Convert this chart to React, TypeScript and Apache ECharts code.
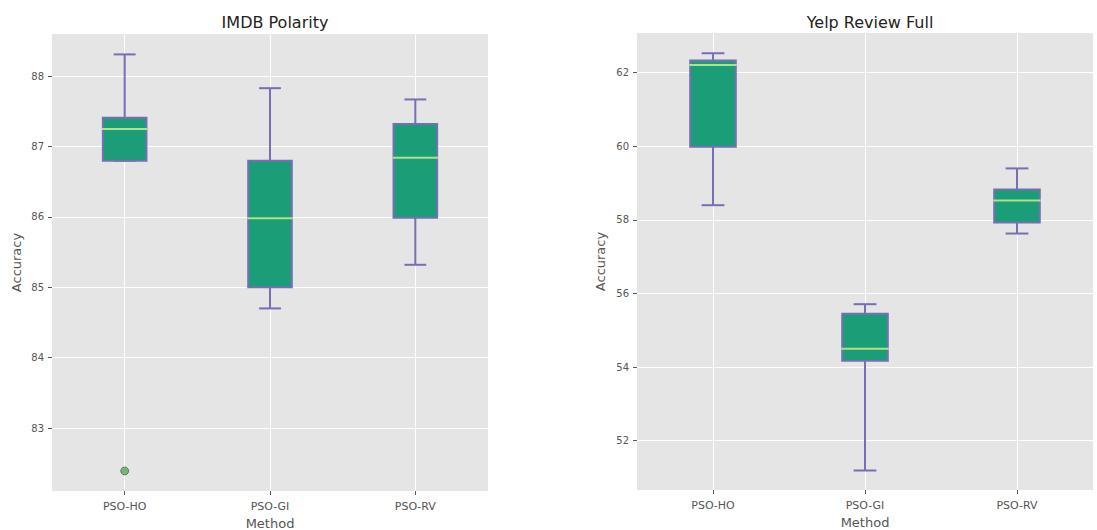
import React, { useEffect, useRef } from "react";
import * as echarts from "echarts";

const categories = ["PSO-HO", "PSO-GI", "PSO-RV"];
const positions = [1, 2, 3];
// [min whisker, Q1, median, Q3, max whisker]
const imdbStats = [
  [86.8, 86.8, 87.25, 87.41, 88.31],
  [84.7, 85.0, 85.98, 86.8, 87.83],
  [85.32, 85.99, 86.84, 87.32, 87.67],
];
const imdbOutliers = [[1, 82.39]];
const yelpStats = [
  [58.4, 59.99, 62.21, 62.33, 62.53],
  [51.19, 54.17, 54.5, 55.45, 55.71],
  [57.63, 57.93, 58.53, 58.83, 59.4],
];
const imdbTicks = [83, 84, 85, 86, 87, 88];
const yelpTicks = [52, 54, 56, 58, 60, 62];

const FILL = "#1b9e77";
const EDGE = "#7570b3";
const MEDIAN = "#b2df8a";
const FONT = "DejaVu Sans";

function renderBox(params: any, api: any) {
  const x = api.value(0);
  const lo = api.coord([x, api.value(1)]);
  const q1 = api.coord([x, api.value(2)]);
  const med = api.coord([x, api.value(3)]);
  const q3 = api.coord([x, api.value(4)]);
  const hi = api.coord([x, api.value(5)]);
  const bw = api.size([0.3, 0])[0];
  const cw = bw / 2;
  const cx = lo[0];
  const ls = { stroke: EDGE, lineWidth: 2 };
  return {
    type: "group",
    children: [
      { type: "line", shape: { x1: cx, y1: hi[1], x2: cx, y2: q3[1] }, style: ls },
      { type: "line", shape: { x1: cx, y1: q1[1], x2: cx, y2: lo[1] }, style: ls },
      { type: "line", shape: { x1: cx - cw / 2, y1: hi[1], x2: cx + cw / 2, y2: hi[1] }, style: ls },
      { type: "line", shape: { x1: cx - cw / 2, y1: lo[1], x2: cx + cw / 2, y2: lo[1] }, style: ls },
      {
        type: "rect",
        shape: { x: cx - bw / 2, y: q3[1], width: bw, height: q1[1] - q3[1] },
        style: { fill: FILL, stroke: EDGE, lineWidth: 2 },
      },
      {
        type: "line",
        shape: { x1: cx - bw / 2 - 1, y1: med[1], x2: cx + bw / 2 + 1, y2: med[1] },
        style: { stroke: MEDIAN, lineWidth: 2 },
      },
    ],
  };
}

function xAxisFor(gridIndex: number) {
  return {
    type: "value",
    gridIndex,
    min: 0.5,
    max: 3.5,
    name: "Method",
    nameLocation: "middle",
    nameGap: 26,
    nameTextStyle: { color: "#555", fontSize: 13, fontFamily: FONT },
    axisLine: { show: false },
    axisTick: { show: true, length: 4, lineStyle: { color: "#555" }, customValues: positions },
    axisLabel: {
      color: "#555",
      fontSize: 11,
      fontFamily: FONT,
      margin: 10,
      customValues: positions,
      formatter: (v: number) => categories[Math.round(v) - 1] ?? "",
    },
    splitLine: { show: true, lineStyle: { color: "#ffffff", width: 1 }, customValues: positions },
  };
}

function yAxisFor(gridIndex: number, min: number, max: number, ticks: number[], gap: number) {
  return {
    type: "value",
    gridIndex,
    min,
    max,
    name: "Accuracy",
    nameLocation: "middle",
    nameGap: gap,
    nameTextStyle: { color: "#555", fontSize: 13, fontFamily: FONT },
    axisLine: { show: false },
    axisTick: { show: true, length: 4, lineStyle: { color: "#555" }, customValues: ticks },
    axisLabel: { color: "#555", fontSize: 10, fontFamily: FONT, margin: 8, customValues: ticks },
    splitLine: { show: true, lineStyle: { color: "#ffffff", width: 1 }, customValues: ticks },
  };
}

export default function App() {
  const ref = useRef<HTMLDivElement>(null);
  useEffect(() => {
    if (!ref.current) return;
    const chart = echarts.init(ref.current, null, { renderer: "svg" });
    const toData = (stats: number[][]) => stats.map((s, i) => [positions[i], ...s]);
    const titleStyle = { fontSize: 16, fontWeight: "normal", color: "#222", fontFamily: FONT };
    chart.setOption({
      animation: false,
      backgroundColor: "#ffffff",
      title: [
        { text: "IMDB Polarity", left: 270, top: 9, textAlign: "center", textStyle: titleStyle },
        { text: "Yelp Review Full", left: 865, top: 9, textAlign: "center", textStyle: titleStyle },
      ],
      grid: [
        {
          left: 52, top: 34, width: 436, height: 457, show: true,
          backgroundColor: "#e5e5e5", borderWidth: 0, outerBoundsMode: "none", containLabel: false,
        },
        {
          left: 637, top: 33, width: 456, height: 457, show: true,
          backgroundColor: "#e5e5e5", borderWidth: 0, outerBoundsMode: "none", containLabel: false,
        },
      ],
      xAxis: [xAxisFor(0), xAxisFor(1)],
      yAxis: [
        yAxisFor(0, 82.105, 88.6, imdbTicks, 29),
        yAxisFor(1, 50.66, 63.08, yelpTicks, 30),
      ],
      series: [
        {
          type: "custom",
          xAxisIndex: 0,
          yAxisIndex: 0,
          data: toData(imdbStats),
          encode: { x: 0, y: [1, 2, 3, 4, 5] },
          renderItem: renderBox,
        },
        {
          type: "custom",
          xAxisIndex: 1,
          yAxisIndex: 1,
          data: toData(yelpStats),
          encode: { x: 0, y: [1, 2, 3, 4, 5] },
          renderItem: renderBox,
        },
        {
          type: "scatter",
          xAxisIndex: 0,
          yAxisIndex: 0,
          data: imdbOutliers,
          symbol: "circle",
          symbolSize: 8,
          itemStyle: { color: "#55a855", borderColor: "rgba(40,40,40,0.6)", borderWidth: 1 },
        },
      ],
    });
    return () => chart.dispose();
  }, []);
  return (
    <div
      ref={ref}
      style={{ position: "fixed", left: 0, top: 0, width: 1097, height: 530 }}
    />
  );
}
